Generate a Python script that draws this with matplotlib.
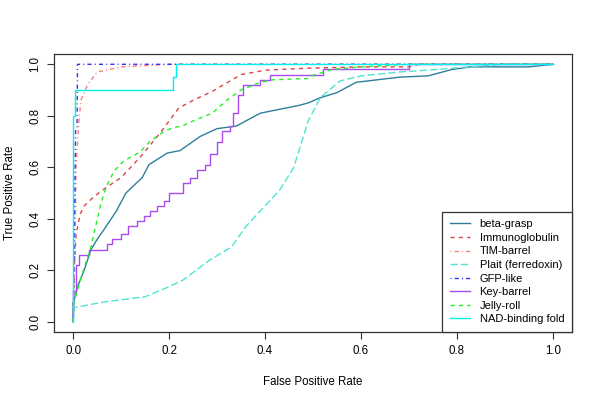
import matplotlib
matplotlib.use('Agg')
import matplotlib.pyplot as plt

plt.rcParams['font.family'] = ['Liberation Sans', 'DejaVu Sans']

# ROC curves (false positive rate, true positive rate)
beta_x = [0, 0, 0.01, 0.023, 0.037, 0.05, 0.065, 0.09, 0.11, 0.144, 0.158, 0.196, 0.223, 0.265,
          0.30, 0.34, 0.39, 0.43, 0.47, 0.49, 0.515, 0.55, 0.59, 0.68, 0.74, 0.79, 0.83, 0.95, 1.0]
beta_y = [0, 0.07, 0.14, 0.20, 0.28, 0.32, 0.36, 0.43, 0.50, 0.56, 0.61, 0.655, 0.665, 0.72,
          0.75, 0.76, 0.81, 0.825, 0.84, 0.85, 0.87, 0.89, 0.93, 0.95, 0.955, 0.98, 0.99, 0.99, 1.0]

immuno_x = [0, 0.002, 0.006, 0.015, 0.023, 0.04, 0.06, 0.10, 0.14, 0.18, 0.22, 0.25, 0.29,
            0.35, 0.40, 0.49, 0.6, 0.7, 0.72, 1.0]
immuno_y = [0, 0.2, 0.34, 0.42, 0.45, 0.48, 0.51, 0.56, 0.64, 0.73, 0.83, 0.86, 0.895,
            0.96, 0.977, 0.985, 0.99, 0.99, 1.0, 1.0]

tim_x = [0, 0.004, 0.006, 0.012, 0.016, 0.03, 0.05, 0.1, 0.2, 1.0]
tim_y = [0, 0.3, 0.61, 0.78, 0.86, 0.92, 0.97, 0.99, 1.0, 1.0]

plait_x = [0, 0.002, 0.065, 0.15, 0.2, 0.23, 0.285, 0.33, 0.36, 0.39, 0.43, 0.46, 0.49,
           0.515, 0.556, 0.6, 0.68, 0.76, 0.79, 0.9, 1.0]
plait_y = [0, 0.055, 0.077, 0.097, 0.136, 0.163, 0.24, 0.29, 0.37, 0.43, 0.51, 0.60, 0.78,
           0.87, 0.935, 0.955, 0.97, 0.98, 0.985, 1.0, 1.0]

gfp_x = [0, 0.005, 0.008, 0.009, 1.0]
gfp_y = [0, 0.74, 0.75, 1.0, 1.0]

# step curves (value reached at each x)
key_x = [0, 0, 0.006, 0.012, 0.033, 0.07, 0.08, 0.1, 0.115, 0.133, 0.148, 0.16, 0.175, 0.19,
         0.2, 0.228, 0.244, 0.258, 0.275, 0.285, 0.3, 0.31, 0.327, 0.333, 0.344, 0.354, 0.39,
         0.41, 0.52, 0.70, 1.0]
key_y = [0.02, 0.12, 0.22, 0.26, 0.28, 0.30, 0.32, 0.34, 0.37, 0.39, 0.41, 0.43, 0.45, 0.47,
         0.50, 0.54, 0.56, 0.59, 0.61, 0.65, 0.70, 0.74, 0.76, 0.81, 0.88, 0.92, 0.94,
         0.957, 0.98, 1.0, 1.0]

jelly_x = [0, 0.002, 0.023, 0.037, 0.048, 0.058, 0.068, 0.085, 0.106, 0.14, 0.16, 0.19, 0.21,
           0.227, 0.25, 0.29, 0.32, 0.35, 0.39, 0.417, 0.49, 0.50, 0.54, 0.6, 0.7, 1.0]
jelly_y = [0, 0.08, 0.21, 0.29, 0.38, 0.46, 0.52, 0.585, 0.625, 0.66, 0.70, 0.74, 0.755,
           0.76, 0.78, 0.81, 0.86, 0.90, 0.93, 0.94, 0.945, 0.957, 0.98, 0.99, 1.0, 1.0]

nad_x = [0, 0, 0.003, 0.208, 0.214, 1.0]
nad_y = [0, 0.8, 0.9, 0.95, 1.0, 1.0]

fig = plt.figure(figsize=(6, 4), dpi=100)
ax = fig.add_axes([0.09, 0.17, 0.8633, 0.695])

dashed = (0, (3, 3))
dotdash = (0, (0.75, 2.25, 3, 2.25))
longdash = (0, (5.25, 2.25))

ax.plot(beta_x, beta_y, color='#2f7e9c', lw=1, label='beta-grasp')
ax.plot(immuno_x, immuno_y, color='#dd4444', lw=1, ls=dashed, label='Immunoglobulin')
ax.plot(tim_x, tim_y, color='#ff7a7a', lw=1, ls=dotdash, label='TIM-barrel')
ax.plot(plait_x, plait_y, color='#50e3d2', lw=1, ls=longdash, label='Plait (ferredoxin)')
ax.plot(gfp_x, gfp_y, color='#3333ff', lw=1, ls=dotdash, label='GFP-like')
ax.plot(key_x, key_y, color='#a84cf2', lw=1, drawstyle='steps-post', label='Key-barrel')
ax.plot(jelly_x, jelly_y, color='#22ee22', lw=1, ls=dashed, label='Jelly-roll')
ax.plot(nad_x, nad_y, color='#00f0f0', lw=1, drawstyle='steps-post', label='NAD-binding fold')

ax.set_xlim(-0.04, 1.04)
ax.set_ylim(-0.04, 1.04)
ticks = [0.0, 0.2, 0.4, 0.6, 0.8, 1.0]
ax.set_xticks(ticks)
ax.set_yticks(ticks)
ax.set_xticklabels(['0.0', '0.2', '0.4', '0.6', '0.8', '1.0'])
ax.set_yticklabels(['0.0', '0.2', '0.4', '0.6', '0.8', '1.0'], rotation=90, va='center')
ax.tick_params(length=5, width=0.8, labelsize=8.3, color='#333333', pad=4)
for s in ax.spines.values():
    s.set_linewidth(0.9)
    s.set_color('#333333')

ax.set_xlabel('False Positive Rate', fontsize=8.3, labelpad=14)
ax.set_ylabel('True Positive Rate', fontsize=8.3, labelpad=10)

# legend in the bottom-right corner, like R's legend("bottomright")
leg = ax.legend(loc='lower right', bbox_to_anchor=(1.0, 0.0), borderaxespad=0,
                fontsize=8, fancybox=False, framealpha=1, edgecolor='#333333',
                handlelength=1.8, handletextpad=0.85, labelspacing=0.32,
                borderpad=0.7)
leg.get_frame().set_linewidth(0.9)

fig.savefig('out.png', dpi=100)
